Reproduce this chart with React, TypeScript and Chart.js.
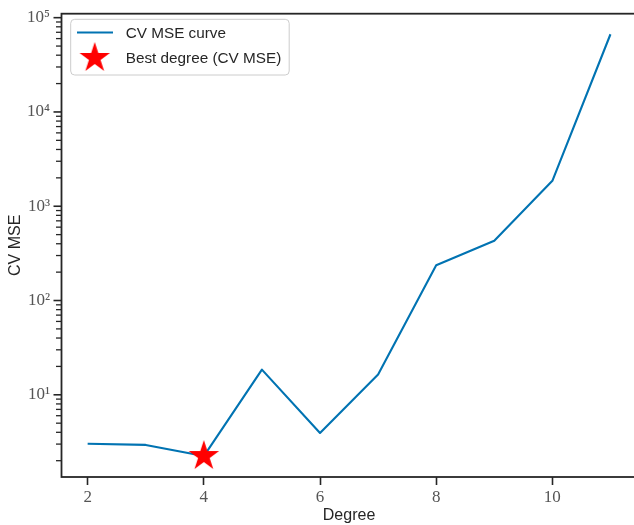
import React, { useEffect, useRef } from "react";
import { Chart, registerables } from "chart.js";

Chart.register(...registerables);

// ---- data ----
const degrees = [2, 3, 4, 5, 6, 7, 8, 9, 10, 11];
const cvMse = [3.02, 2.94, 2.24, 18.5, 3.94, 16.4, 237, 431, 1860, 66700];
const bestDegree = 4;
const xTickValues = [2, 4, 6, 8, 10];
const yDecades = [0, 1, 2, 3, 4, 5];
const seriesLabel = "CV MSE curve";
const bestLabel = "Best degree (CV MSE)";
const xTitle = "Degree";
const yTitle = "CV MSE";

const SUP = ["⁰", "¹", "²", "³", "⁴", "⁵", "⁶", "⁷", "⁸", "⁹"];
const LINE_COLOR = "#0173b2";
const SPINE = "#262626";
const TICK_TEXT = "#555555";

function makeStar(r: number, color: string) {
  const size = Math.ceil(r * 2 + 2);
  const c = document.createElement("canvas");
  c.width = size;
  c.height = size;
  const ctx = c.getContext("2d")!;
  const cx = size / 2;
  const cy = size / 2;
  const inner = r * 0.381966;
  ctx.beginPath();
  for (let i = 0; i < 10; i++) {
    const rad = i % 2 === 0 ? r : inner;
    const a = -Math.PI / 2 + (i * Math.PI) / 5;
    const x = cx + rad * Math.cos(a);
    const y = cy + rad * Math.sin(a);
    if (i === 0) ctx.moveTo(x, y);
    else ctx.lineTo(x, y);
  }
  ctx.closePath();
  ctx.fillStyle = color;
  ctx.fill();
  return c;
}

function isPow10(v: number) {
  const l = Math.log10(v);
  return Math.abs(l - Math.round(l)) < 1e-9;
}

export default function App() {
  const ref = useRef<HTMLCanvasElement | null>(null);

  useEffect(() => {
    const canvas = ref.current!;
    const star = makeStar(16, "#ff0000");
    const bestIdx = degrees.indexOf(bestDegree);

    const framePlugin = {
      id: "frameAndTicks",
      afterDraw(chart: any) {
        const { ctx, chartArea } = chart;
        const y = chart.scales.y;
        ctx.save();
        // y tick marks (major / minor)
        ctx.strokeStyle = SPINE;
        for (const t of y.ticks) {
          const major = isPow10(t.value);
          const py = y.getPixelForValue(t.value);
          const len = major ? 8 : 5.5;
          ctx.lineWidth = major ? 1.6 : 1.3;
          ctx.beginPath();
          ctx.moveTo(chartArea.left - len, py);
          ctx.lineTo(chartArea.left, py);
          ctx.stroke();
        }
        // spines
        ctx.lineWidth = 1.8;
        ctx.strokeStyle = SPINE;
        ctx.strokeRect(
          chartArea.left,
          chartArea.top,
          chartArea.right - chartArea.left,
          chartArea.bottom - chartArea.top
        );
        // legend
        const bx = 70.7, by = 19.3, bw = 218.5, bh = 55.7, r = 4;
        ctx.beginPath();
        ctx.moveTo(bx + r, by);
        ctx.lineTo(bx + bw - r, by);
        ctx.arcTo(bx + bw, by, bx + bw, by + r, r);
        ctx.lineTo(bx + bw, by + bh - r);
        ctx.arcTo(bx + bw, by + bh, bx + bw - r, by + bh, r);
        ctx.lineTo(bx + r, by + bh);
        ctx.arcTo(bx, by + bh, bx, by + bh - r, r);
        ctx.lineTo(bx, by + r);
        ctx.arcTo(bx, by, bx + r, by, r);
        ctx.closePath();
        ctx.fillStyle = "rgba(255,255,255,0.8)";
        ctx.fill();
        ctx.lineWidth = 1;
        ctx.strokeStyle = "#cccccc";
        ctx.stroke();

        ctx.strokeStyle = LINE_COLOR;
        ctx.lineWidth = 2.1;
        ctx.beginPath();
        ctx.moveTo(77, 32.5);
        ctx.lineTo(113, 32.5);
        ctx.stroke();
        ctx.drawImage(star, 94.7 - star.width / 2, 58 - star.height / 2);

        ctx.fillStyle = SPINE;
        ctx.font = '15.3px "Liberation Sans", Arial, sans-serif';
        ctx.textAlign = "left";
        ctx.textBaseline = "middle";
        ctx.fillText(seriesLabel, 125.7, 33.3);
        ctx.fillText(bestLabel, 125.7, 59.2);
        ctx.restore();
      },
    };

    const chart = new Chart(canvas, {
      type: "line",
      data: {
        datasets: [
          {
            label: bestLabel,
            data: [{ x: bestDegree, y: cvMse[bestIdx] }],
            showLine: false,
            pointStyle: star as any,
            pointRadius: 16,
            order: 0,
          },
          {
            label: seriesLabel,
            data: degrees.map((d, i) => ({ x: d, y: cvMse[i] })),
            borderColor: LINE_COLOR,
            borderWidth: 2.1,
            pointRadius: 0,
            borderJoinStyle: "round",
            borderCapStyle: "butt",
            fill: false,
            tension: 0,
            order: 1,
          },
        ],
      },
      options: {
        responsive: false,
        animation: false,
        events: [],
        layout: { autoPadding: false, padding: { top: 11, right: 3.4, left: 0, bottom: 0 } },
        plugins: {
          legend: { display: false },
          tooltip: { enabled: false },
        },
        scales: {
          x: {
            type: "linear",
            min: 1.55,
            max: 11.45,
            afterBuildTicks: (scale: any) => {
              scale.ticks = xTickValues.map((v) => ({ value: v }));
            },
            afterFit: (scale: any) => {
              scale.height = 48;
            },
            border: { display: false },
            grid: {
              display: true,
              drawOnChartArea: false,
              drawTicks: true,
              tickLength: 8,
              tickColor: SPINE,
              tickWidth: 1.6,
            },
            ticks: {
              autoSkip: false,
              maxRotation: 0,
              padding: 2,
              color: TICK_TEXT,
              font: { family: '"Liberation Serif", serif', size: 17 },
              callback: (v: any) => String(v),
            },
            title: {
              display: true,
              text: xTitle,
              color: SPINE,
              font: { family: '"Liberation Sans", Arial, sans-serif', size: 16, lineHeight: 1 },
              padding: { top: 0, bottom: 1 },
            },
          },
          y: {
            type: "logarithmic",
            min: 1.343,
            max: 110200,
            afterBuildTicks: (scale: any) => {
              const ticks: any[] = [];
              for (const e of yDecades) {
                for (let m = 1; m <= 9; m++) {
                  const v = m * Math.pow(10, e);
                  if (v >= scale.min && v <= scale.max) ticks.push({ value: v, major: m === 1 });
                }
              }
              scale.ticks = ticks;
            },
            afterFit: (scale: any) => {
              scale.width = 61.5;
            },
            border: { display: false },
            grid: {
              display: true,
              drawOnChartArea: false,
              drawTicks: true,
              tickLength: 8,
              tickColor: "rgba(0,0,0,0)",
            },
            ticks: {
              autoSkip: false,
              padding: 3.5,
              color: TICK_TEXT,
              font: { family: '"Liberation Serif", serif', size: 17 },
              callback: (v: any) => {
                const n = Number(v);
                if (!isPow10(n)) return "";
                const e = Math.round(Math.log10(n));
                return "10" + SUP[e];
              },
            },
            title: {
              display: true,
              text: yTitle,
              color: SPINE,
              font: { family: '"Liberation Sans", Arial, sans-serif', size: 16, lineHeight: 1 },
              padding: { top: 7.5, bottom: 0 },
            },
          },
        },
      },
      plugins: [framePlugin],
    });

    return () => chart.destroy();
  }, []);

  return (
    <div
      style={{
        position: "absolute",
        left: 0,
        top: 0,
        width: 634,
        height: 525,
        overflow: "hidden",
        background: "#ffffff",
      }}
    >
      <canvas ref={ref} width={640} height={525} style={{ display: "block" }} />
    </div>
  );
}
